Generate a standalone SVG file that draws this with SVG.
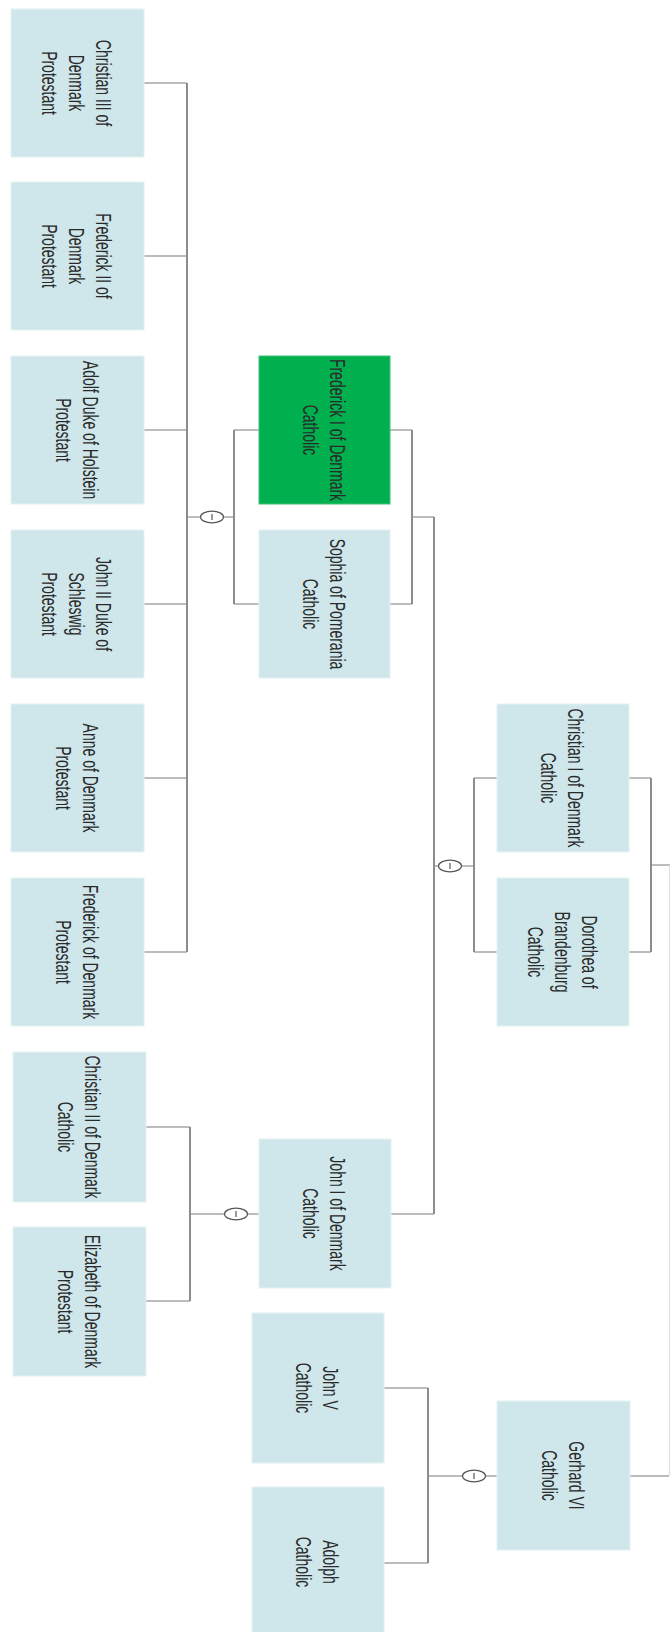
<svg xmlns="http://www.w3.org/2000/svg" xmlns:xlink="http://www.w3.org/1999/xlink" width="670" height="1632" viewBox="0 0 670 1632">
<style>
.box{fill:#cfe7ea;stroke:#e4f2f3;stroke-width:1}
.sel{fill:#00b04f;stroke:#3cc276;stroke-width:1}
.t{font-family:"Liberation Sans",Arial,sans-serif;font-size:14px;fill:#2a2a2a;text-anchor:middle}
.h{fill:none;stroke:#7a7a7a;stroke-width:1.2}
.v{fill:none;stroke:#8c8c8c;stroke-width:2}
.f{fill:none;stroke:#dedede;stroke-width:1.2}
.knot{fill:#ffffff;stroke:#555555;stroke-width:1.2}
.tick{stroke:#555555;stroke-width:1.2}
</style>
<defs>
<g id="k"><ellipse class="knot" cx="0" cy="0" rx="11.5" ry="5.8"/><line class="tick" x1="0" y1="-3" x2="0" y2="3"/></g>
</defs>
<rect x="0" y="0" width="670" height="1632" fill="#ffffff"/>
<g id="connectors">
<path class="h" d="M144 83H187M144 256H187M144 430H187M144 604H187M144 778H187M144 952H187M187 517H200.5M223.5 517H234M234 430H259M234 604H259M390 430H412M390 604H412M412 517H434M434 866H438.5M461.5 866H474M474 778H497M474 952H497M629 778H651M629 952H651M651 865H670M391 1214H434M146 1127H190M146 1301H190M190 1214H224.5M247.5 1214H259M384 1388H428M384 1563H428M428 1476H462.5M485.5 1476H497M630 1476H669"/>
<path class="v" d="M187 83V952M234 430V604M412 430V604M434 517V1214M474 778V952M651 778V952M190 1127V1301M428 1388V1563"/>
<path class="f" d="M669.5 865V1476"/>
<use xlink:href="#k" x="212" y="517"/>
<use xlink:href="#k" x="450" y="866"/>
<use xlink:href="#k" x="236" y="1214"/>
<use xlink:href="#k" x="474" y="1476"/>
</g>
<g id="christian3"><rect class="box" x="11" y="9" width="133" height="148"/>
<text class="t" transform="translate(77.5 83) rotate(90) scale(1 1.6)"><tspan x="0" y="-11.8">Christian III of</tspan><tspan x="0" y="5.1">Denmark</tspan><tspan x="0" y="22">Protestant</tspan></text></g>
<g id="frederick2"><rect class="box" x="11" y="182" width="133" height="148"/>
<text class="t" transform="translate(77.5 256) rotate(90) scale(1 1.6)"><tspan x="0" y="-11.8">Frederick II of</tspan><tspan x="0" y="5.1">Denmark</tspan><tspan x="0" y="22">Protestant</tspan></text></g>
<g id="adolf"><rect class="box" x="11" y="356" width="133" height="148"/>
<text class="t" transform="translate(77.5 430) rotate(90) scale(1 1.6)"><tspan x="0" y="-3.35">Adolf Duke of Holstein</tspan><tspan x="0" y="13.55">Protestant</tspan></text></g>
<g id="john2"><rect class="box" x="11" y="530" width="133" height="148"/>
<text class="t" transform="translate(77.5 604) rotate(90) scale(1 1.6)"><tspan x="0" y="-11.8">John II Duke of</tspan><tspan x="0" y="5.1">Schleswig</tspan><tspan x="0" y="22">Protestant</tspan></text></g>
<g id="anne"><rect class="box" x="11" y="704" width="133" height="148"/>
<text class="t" transform="translate(77.5 778) rotate(90) scale(1 1.6)"><tspan x="0" y="-3.35">Anne of Denmark</tspan><tspan x="0" y="13.55">Protestant</tspan></text></g>
<g id="frederickd"><rect class="box" x="11" y="878" width="133" height="148"/>
<text class="t" transform="translate(77.5 952) rotate(90) scale(1 1.6)"><tspan x="0" y="-3.35">Frederick of Denmark</tspan><tspan x="0" y="13.55">Protestant</tspan></text></g>
<g id="frederick1"><rect class="sel" x="259" y="356" width="131" height="148"/>
<text class="t" transform="translate(324.5 430) rotate(90) scale(1 1.6)"><tspan x="0" y="-3.35">Frederick I of Denmark</tspan><tspan x="0" y="13.55">Catholic</tspan></text></g>
<g id="sophia"><rect class="box" x="259" y="530" width="131" height="148"/>
<text class="t" transform="translate(324.5 604) rotate(90) scale(1 1.6)"><tspan x="0" y="-3.35">Sophia of Pomerania</tspan><tspan x="0" y="13.55">Catholic</tspan></text></g>
<g id="christian1"><rect class="box" x="497" y="704" width="132" height="148"/>
<text class="t" transform="translate(563 778) rotate(90) scale(1 1.6)"><tspan x="0" y="-3.35">Christian I of Denmark</tspan><tspan x="0" y="13.55">Catholic</tspan></text></g>
<g id="dorothea"><rect class="box" x="497" y="878" width="132" height="148"/>
<text class="t" transform="translate(563 952) rotate(90) scale(1 1.6)"><tspan x="0" y="-11.8">Dorothea of</tspan><tspan x="0" y="5.1">Brandenburg</tspan><tspan x="0" y="22">Catholic</tspan></text></g>
<g id="christian2"><rect class="box" x="13" y="1052" width="133" height="150"/>
<text class="t" transform="translate(79.5 1127) rotate(90) scale(1 1.6)"><tspan x="0" y="-3.35">Christian II of Denmark</tspan><tspan x="0" y="13.55">Catholic</tspan></text></g>
<g id="elizabeth"><rect class="box" x="13" y="1227" width="133" height="149"/>
<text class="t" transform="translate(79.5 1301.5) rotate(90) scale(1 1.6)"><tspan x="0" y="-3.35">Elizabeth of Denmark</tspan><tspan x="0" y="13.55">Protestant</tspan></text></g>
<g id="john1"><rect class="box" x="259" y="1139" width="132" height="149"/>
<text class="t" transform="translate(325 1213.5) rotate(90) scale(1 1.6)"><tspan x="0" y="-3.35">John I of Denmark</tspan><tspan x="0" y="13.55">Catholic</tspan></text></g>
<g id="john5"><rect class="box" x="252" y="1313" width="132" height="150"/>
<text class="t" transform="translate(318 1388) rotate(90) scale(1 1.6)"><tspan x="0" y="-3.35">John V</tspan><tspan x="0" y="13.55">Catholic</tspan></text></g>
<g id="adolph"><rect class="box" x="252" y="1487" width="132" height="150"/>
<text class="t" transform="translate(318 1562) rotate(90) scale(1 1.6)"><tspan x="0" y="-3.35">Adolph</tspan><tspan x="0" y="13.55">Catholic</tspan></text></g>
<g id="gerhard6"><rect class="box" x="497" y="1401" width="133" height="149"/>
<text class="t" transform="translate(563.5 1475.5) rotate(90) scale(1 1.6)"><tspan x="0" y="-3.35">Gerhard VI</tspan><tspan x="0" y="13.55">Catholic</tspan></text></g>
</svg>
